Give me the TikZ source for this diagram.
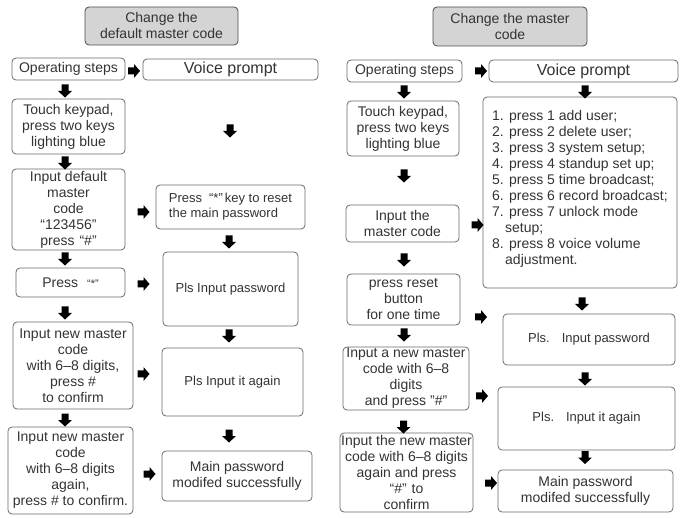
\documentclass[tikz,border=0pt]{standalone}
\usepackage{fontspec}
\setmainfont{Liberation Sans}
\definecolor{bord}{HTML}{6A6A6A}
\definecolor{txt}{HTML}{333333}
\definecolor{ttl}{HTML}{D4D4D4}
\tikzset{
  box/.style={draw=bord, line width=0.8pt, rounded corners=4pt, text=txt, align=center,
    inner sep=0pt, font=\fontsize{14}{16}\selectfont},
  ttlbox/.style={box, fill=ttl, draw=black!70},
  smalltxt/.style={font=\fontsize{13}{15}\selectfont},
  bigtxt/.style={font=\fontsize{16}{18}\selectfont},
  listtxt/.style={text=txt, align=left, inner sep=0pt, anchor=north west, font=\fontsize{14}{16}\selectfont},
  darr/.pic={\fill[black] (-3.5,-6.5) -- (3.5,-6.5) -- (3.5,0) -- (7,0) -- (0,6.5) -- (-7,0) -- (-3.5,0) -- cycle;},
  rarr/.pic={\fill[black] (-6,-3.5) -- (0,-3.5) -- (0,-7) -- (6,0) -- (0,7) -- (0,3.5) -- (-6,3.5) -- cycle;}
}
\begin{document}
\begin{tikzpicture}[x=1pt,y=-1pt]
\useasboundingbox (0,0) rectangle (680,518);

% ---------------- left section ----------------
\node[ttlbox, minimum width=153, minimum height=38] (t1) at (161.5,26) {Change the\\default master code};
\node[box, minimum width=113, minimum height=22] (op1) at (68.5,69) {Operating steps};
\node[box, bigtxt, minimum width=175, minimum height=21] (vp1) at (230.5,69.5) {Voice prompt};
\node[box, minimum width=113, minimum height=55] (tk1) at (68.5,126.5) {Touch keypad,\\press two keys\\lighting blue};
\node[box, minimum width=113, minimum height=81] (id1) at (68.5,209.5) {Input default\\master\\code\\“123456”\\press\hspace{5pt}“\#”};
\node[box, smalltxt, align=left, minimum width=149, minimum height=44] (ps1) at (230.5,207) {Press\hspace{7pt}“*”\hspace{2pt}key to reset\\the main password};
\node[box, minimum width=109, minimum height=29] (pr1) at (70.5,282.5) {Press\hspace{9pt}{\fontsize{11}{13}\selectfont“*”}};
\node[box, smalltxt, minimum width=135, minimum height=74] (pw1) at (230.5,289) {Pls Input password};
\node[box, minimum width=120, minimum height=87] (nm1) at (73,365.5) {Input new master\\code\\with 6--8 digits,\\press \#\\to confirm};
\node[box, smalltxt, minimum width=141, minimum height=68] (ag1) at (232.5,382) {Pls Input it again};
\node[box, minimum width=125, minimum height=87] (nm2) at (70.5,470.5) {Input new master\\code\\with 6--8 digits\\again,\\press \# to confirm.};
\node[box, minimum width=150, minimum height=50] (ok1) at (237,476) {Main password\\modifed successfully};

\pic at (134,71) {rarr};
\pic at (65,91) {darr};
\pic at (230,131) {darr};
\pic at (65,163) {darr};
\pic at (143.5,212) {rarr};
\pic at (229,242) {darr};
\pic at (65,259) {darr};
\pic at (143.5,284) {rarr};
\pic at (65,313) {darr};
\pic at (229,336) {darr};
\pic at (143.5,374) {rarr};
\pic at (65,420) {darr};
\pic at (229,436) {darr};
\pic at (149.5,474) {rarr};

% ---------------- right section ----------------
\node[ttlbox, minimum width=154, minimum height=39] (t2) at (510,26.5) {Change the master\\code};
\node[box, minimum width=115, minimum height=22] (op2) at (404.5,71) {Operating steps};
\node[box, bigtxt, minimum width=189, minimum height=22] (vp2) at (583.5,71) {Voice prompt};
\node[box, minimum width=112, minimum height=55] (tk2) at (403,128.5) {Touch keypad,\\press two keys\\lighting blue};
\node[box, minimum width=194, minimum height=191] (ls2) at (580,192.5) {};
\node[listtxt] (ls2t) at (492,110) {1. press 1 add user;\\2. press 2 delete user;\\3. press 3 system setup;\\4. press 4 standup set up;\\5. press 5 time broadcast;\\6. press 6 record broadcast;\\7. press 7 unlock mode\\\hspace*{13pt}setup;\\8. press 8 voice volume\\\hspace*{13pt}adjustment.};
\node[box, minimum width=113, minimum height=37] (im2) at (402.5,223.5) {Input the\\master code};
\node[box, minimum width=113, minimum height=51] (rb2) at (403.5,299.5) {press reset\\button\\for one time};
\node[box, smalltxt, minimum width=172, minimum height=51] (pw2) at (589,339.5) {Pls.\hspace{12pt}Input password};
\node[box, minimum width=126, minimum height=63] (nm3) at (406,378.5) {Input a new master\\code with 6--8\\digits\\and press "\#"};
\node[box, smalltxt, minimum width=177, minimum height=63] (ag2) at (586.5,418.5) {Pls.\hspace{12pt}Input it again};
\node[box, minimum width=133, minimum height=79] (nm4) at (406.5,472.5) {Input the new master\\code with 6--8 digits\\again and press\\“\#”\hspace{5pt}to\\confirm};
\node[box, minimum width=175, minimum height=42] (ok2) at (585.5,491) {Main password\\modifed successfully};

\pic at (481,71) {rarr};
\pic at (404,92) {darr};
\pic at (585,92) {darr};
\pic at (404,176) {darr};
\pic at (477.5,225) {rarr};
\pic at (404,260) {darr};
\pic at (582,304) {darr};
\pic at (481,317) {rarr};
\pic at (404,335) {darr};
\pic at (585,379) {darr};
\pic at (482,396) {rarr};
\pic at (403.5,427) {darr};
\pic at (585,457.5) {darr};
\pic at (491,483) {rarr};
\end{tikzpicture}
\end{document}
